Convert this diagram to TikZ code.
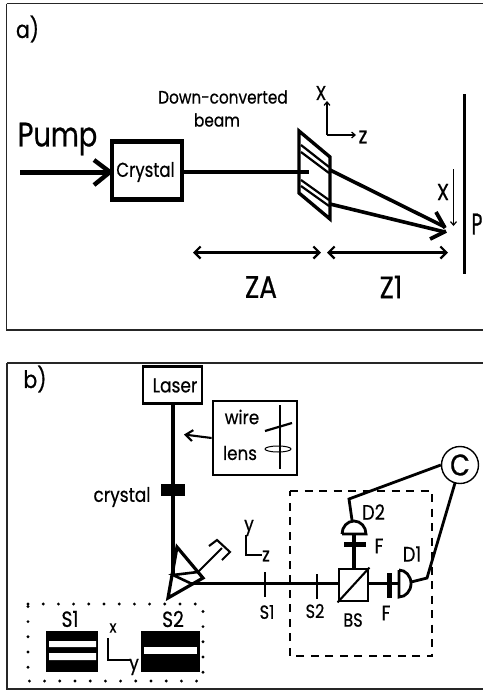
\documentclass[tikz,border=0pt]{standalone}
\usepackage{fontspec}
\setmainfont[FakeBold=0.4]{Poppins}
\newfontfamily\bfp[FakeBold=0.6]{Poppins}
\usetikzlibrary{arrows.meta}
\tikzset{
 med/.style={line width=2.8pt,black,line join=miter},
 beam/.style={line width=3.2pt,black},
 frame/.style={line width=1.4pt,draw=black!85},
 dbl/.style={line width=2.2pt,{Straight Barb[length=6pt,width=12pt]}-{Straight Barb[length=6pt,width=12pt]}},
 thin1/.style={line width=1.2pt,-{Straight Barb[length=3.5pt,width=6pt]}},
 xlab/.style 2 args={inner sep=0pt,font=\bfp\fontsize{#1}{#1}\selectfont,xscale=#2},
}
\begin{document}
\begin{tikzpicture}[x=1pt,y=-1pt]
\useasboundingbox (0,0) rectangle (483,694);
\fill[white] (0,0) rectangle (483,694);
% panel a
\draw[frame] (6.5,3.5) -- (6.5,330) -- (483,330);
\draw[frame] (6.5,3.5) -- (483,3.5);
\node[xlab={24}{0.85}] (la) at (27.5,29) {a)};
\node[xlab={34}{0.8}] (pump) at (57.5,139) {Pump};
\node[draw,line width=4.6pt,minimum width=70pt,minimum height=58pt,inner sep=0pt] (cry) at (147,170.5) {};
\node[xlab={20}{0.83}] (crt) at (145.5,172) {Crystal};
\coordinate (ps) at (20,172.4);
\draw[line width=5.6pt] (ps) -- (cry.west |- ps);
\draw[line width=4.4pt] (94,160) -- (110,172) -- (94,185);
\coordinate (sl) at (309,172);
\draw[beam] (cry.east |- sl) -- (sl);
\node[xlab={18}{0.85}] (dc) at (223,97) {Down-converted};
\node[xlab={18}{0.85}] (bm) at (217,120) {beam};
\draw[line width=3.4pt,line join=miter] (299,131) -- (330,157) -- (330,219) -- (299,193) -- cycle;
\foreach \a/\b in {145/165,152/171,180/198,186/204}
  \draw[line width=2.2pt] (301,\a) -- (329,\b+2);
\draw[line width=3.6pt] (330,170) -- (445,227);
\draw[line width=3.6pt] (330,204) -- (445,232);
\draw[line width=3.8pt] (436,212) -- (445,228);
\draw[line width=3.8pt] (430,239) -- (446,231);
\coordinate (ax) at (327,135);
\draw[thin1] (ax) -- (327,101);
\draw[thin1] (ax) -- (356,135);
\node[xlab={20}{0.85}] (xa) at (321,93) {X};
\node[xlab={23}{0.85}] (za) at (363,137) {z};
\draw[line width=2.2pt] (464.5,94) -- (464.5,274);
\draw[thin1] (453.5,169) -- (453.5,226);
\node[xlab={23}{0.85}] (xb) at (443,192) {X};
\node[xlab={30}{0.62}] (pl) at (477,224) {P};
\draw[dbl] (193,252.5) -- (321,252.5);
\draw[dbl] (327,252.5) -- (448,252.5);
\node[xlab={31}{0.85}] (zat) at (261,287) {ZA};
\node[xlab={31}{0.85}] (z1t) at (391,287) {Z1};
% panel b
\draw[frame] (7,363) -- (7,689) -- (483,689);
\draw[frame] (7,363) -- (483,363);
\node[xlab={24}{0.85}] (lb) at (35,379) {b)};
\node[draw,line width=2.8pt,minimum width=59pt,minimum height=37pt,inner sep=0pt] (laser) at (172.5,385) {};
\node[xlab={20}{0.85}] (lt) at (175,385.5) {Laser};
\node[draw,line width=2.8pt,minimum width=84pt,minimum height=74pt,inner sep=0pt] (wb) at (255,438) {};
\node[xlab={19}{0.88}] (wt) at (242,417) {wire};
\node[xlab={19}{0.88}] (lst) at (240,453) {lens};
\draw[line width=2.2pt] (280,405) -- (280,469);
\draw[line width=2.2pt] (265,431) -- (292,423);
\draw[line width=1pt] (278,449) ellipse (13pt and 3pt);
\draw[line width=2.1pt,-{Straight Barb[length=7pt,width=11pt]}] (wb.west) -- (184,434.5);
\coordinate (pb) at (173,575);
\draw[beam] (pb |- laser.south) -- (pb);
\node[fill=black,minimum width=24pt,minimum height=12pt,inner sep=0pt] (cb) at (173,490) {};
\node[xlab={20}{0.85}] (ct) at (122,497) {crystal};
% prism
\draw[line width=3.2pt,line join=miter] (177,547) -- (203,578) -- (168,598) -- cycle;
\draw[line width=2.6pt] (198,572) -- (173,575) -- (190,583);
\coordinate (trap) at (222,548);
\draw[line width=2.1pt] (198,572) -- (trap);
\draw[line width=2.1pt] (209,546) -- (217,540) -- (230,552) -- (222,560);
% axes
\draw[line width=1.9pt] (246,535) -- (246,555) -- (262,555);
\node[xlab={20}{0.85}] (yl) at (249,528) {y};
\node[xlab={20}{0.85}] (zl) at (266,556) {z};
% BS etc.
\node[draw,line width=2.8pt,minimum width=29pt,minimum height=32pt,inner sep=0pt] (bs) at (353.5,585) {};
\draw[line width=2.1pt] (bs.south west) -- (bs.north east);
\coordinate (pout) at (190,583.5);
\draw[med] (pout) -- (bs.west |- pout);
\draw[line width=2.1pt] (265,572) -- (265,597);
\draw[line width=2.1pt] (317,574) -- (317,599);
\node[xlab={19}{0.85}] (s1b) at (267,612) {S1};
\node[xlab={19}{0.85}] (s2b) at (315,611) {S2};
\node[xlab={19}{0.85}] (bst) at (353,620) {BS};
\draw[line width=2.1pt,dash pattern=on 8pt off 6.5pt] (290,491) -- (432,491) -- (432,656) -- (290,656) -- cycle;
% D2
\coordinate (d2f) at (354,534);
\draw[beam] (d2f |- bs.north) -- (d2f);
\node[fill=black,minimum width=22pt,minimum height=5.5pt,inner sep=0pt] (f2) at (355,544.5) {};
\draw[line width=2.8pt] (342,534) -- (366,534) arc (0:180:12pt and 13pt);
\node[xlab={21}{0.85}] (d2t) at (373.5,512) {D2};
\node[xlab={21}{0.85}] (f2t) at (379,546) {F};
% D1
\draw[med] (bs.east |- pout) -- (399,583.5);
\node[fill=black,minimum width=5.5pt,minimum height=25pt,inner sep=0pt] (f1) at (389.5,585.5) {};
\draw[line width=2.8pt] (399,570) -- (399,597) arc (-90:90:12pt and 13.5pt);
\node[xlab={21}{0.85}] (d1t) at (412,554) {D1};
\node[xlab={21}{0.85}] (f1t) at (386,613) {F};
% C
\node[draw,circle,line width=1.4pt,minimum size=37pt,inner sep=0pt] (cc) at (460,465) {};
\node[xlab={30}{0.85}] (ct2) at (460,465) {C};
\draw[med] (352,520) -- (349,499) -- (cc.west);
\draw[med] (411,582) -- (427,578) -- (455,483);
% slits
\draw[line width=3.2pt,line cap=round,dash pattern=on 0pt off 15.2pt] (28,604) -- (203,604) -- (203,681) -- (28,681) -- cycle;
\fill (46,631) rectangle (98,672);
\fill[white] (49,641) rectangle (96,647) (49,653) rectangle (96,660);
\fill (141,631) rectangle (200,672);
\fill[white] (144,647) rectangle (197,654);
\node[xlab={22}{0.85}] (s1t) at (70,619) {S1};
\node[xlab={22}{0.85}] (s2t) at (173,619) {S2};
\draw[line width=1.9pt] (108,638) -- (108,660) -- (130,660);
\node[xlab={17}{0.85}] (xs) at (113,628) {x};
\node[xlab={20}{0.85}] (ys) at (134,667) {y};
\end{tikzpicture}
\end{document}
